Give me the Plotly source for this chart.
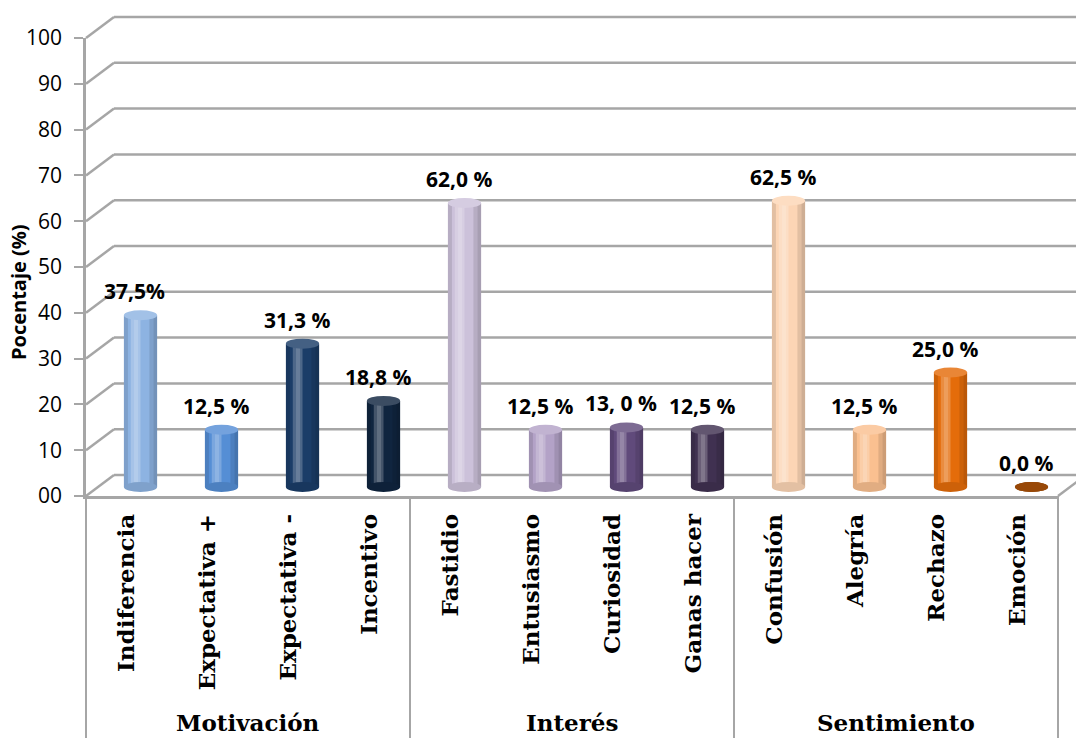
import plotly.graph_objects as go

# ---- data -------------------------------------------------------------
categorias = ["Indiferencia", "Expectativa +", "Expectativa -", "Incentivo",
              "Fastidio", "Entusiasmo", "Curiosidad", "Ganas hacer",
              "Confusión", "Alegría", "Rechazo", "Emoción"]
grupos = ["Motivación", "Interés", "Sentimiento"]
porcentajes = [37.5, 12.5, 31.3, 18.8, 62.0, 12.5, 13.0, 12.5, 62.5, 12.5, 25.0, 0.0]
etiquetas = ["37,5%", "12,5 %", "31,3 %", "18,8 %", "62,0 %", "12,5 %",
             "13, 0 %", "12,5 %", "62,5 %", "12,5 %", "25,0 %", "0,0 %"]
colores = ["#8DB3E2", "#558ED5", "#1B3D68", "#10253F",
           "#CCC1DA", "#B3A2C7", "#604A7B", "#403151",
           "#FCD5B5", "#FAC090", "#E46C0A", "#984807"]
ticks_y = list(range(0, 101, 10))
ticks_y_texto = ["00"] + [str(t) for t in ticks_y[1:]]

# ---- geometry (pixels) -------------------------------------------------
W, H = 1076, 738
X_LEFT, X_RIGHT = 86, 1058          # front plane, category span
Y_ZERO, Y_TOP = 496, 38             # front plane, value 0 and value 100
DEPTH_X, DEPTH_Y = 28, -21          # back wall offset
BAR_DX, BAR_DY = 14, -9             # cylinders sit half way in depth
SCALE = (Y_ZERO - Y_TOP) / 100.0
GRID = "#A6A6A6"
n = len(categorias)
idx = list(range(n))


def px(x):
    return x / W


def py(y):
    return 1 - y / H


def mix(hex_color, amount, target=(255, 255, 255)):
    h = hex_color.lstrip("#")
    rgb = [int(h[i:i + 2], 16) for i in (0, 2, 4)]
    out = [round(c + (t - c) * amount) for c, t in zip(rgb, target)]
    return "#%02X%02X%02X" % tuple(out)


fig = go.Figure()

# invisible copy on the front axes so that the front frame, ticks and
# category labels are laid out
fig.add_trace(go.Bar(x=idx, y=porcentajes, xaxis="x", yaxis="y", opacity=0,
                     marker=dict(color="rgba(0,0,0,0)", line=dict(width=0)),
                     hoverinfo="skip"))

# cylinder bodies and shading strips
BAR_W = 0.41
fig.add_trace(go.Bar(x=idx, y=porcentajes, xaxis="x2", yaxis="y2",
                     width=BAR_W, offset=-BAR_W / 2,
                     marker=dict(color=colores, line=dict(width=0)),
                     hoverinfo="skip"))
strips = [(-0.205, 0.05, "rgba(0,0,0,0.10)"),
          (-0.12, 0.12, "rgba(255,255,255,0.22)"),
          (-0.08, 0.05, "rgba(255,255,255,0.15)"),
          (0.11, 0.05, "rgba(0,0,0,0.10)"),
          (0.16, 0.045, "rgba(0,0,0,0.18)")]
for off, wdt, col in strips:
    fig.add_trace(go.Bar(x=idx, y=porcentajes, xaxis="x2", yaxis="y2",
                         width=wdt, offset=off,
                         marker=dict(color=col, line=dict(width=0)),
                         hoverinfo="skip"))

shapes = []
ELL = 5.0 / SCALE   # half height of the elliptical caps, in data units
for i, (v, c) in enumerate(zip(porcentajes, colores)):
    # rounded base
    shapes.append(dict(type="circle", xref="x2", yref="y2", layer="above",
                       x0=i - BAR_W / 2, x1=i + BAR_W / 2, y0=-ELL, y1=ELL,
                       fillcolor=mix(c, 0.1, (0, 0, 0)), line=dict(width=0)))
    # top cap
    shapes.append(dict(type="circle", xref="x2", yref="y2", layer="above",
                       x0=i - BAR_W / 2, x1=i + BAR_W / 2, y0=v - ELL, y1=v + ELL,
                       fillcolor=mix(c, 0.18) if v > 0 else c,
                       line=dict(width=0)))

# back wall grid + side wall connectors
for t in ticks_y:
    yf = Y_ZERO - t * SCALE
    yb = yf + DEPTH_Y
    shapes.append(dict(type="line", xref="paper", yref="paper", layer="below",
                       x0=px(X_LEFT + DEPTH_X), x1=px(X_RIGHT + DEPTH_X),
                       y0=py(yb), y1=py(yb), line=dict(color=GRID, width=2.5)))
    shapes.append(dict(type="line", xref="paper", yref="paper", layer="below",
                       x0=px(X_LEFT), x1=px(X_LEFT + DEPTH_X),
                       y0=py(yf), y1=py(yb), line=dict(color=GRID, width=2.5)))
# right floor edge
shapes.append(dict(type="line", xref="paper", yref="paper", layer="below",
                   x0=px(X_RIGHT), x1=px(X_RIGHT + DEPTH_X),
                   y0=py(Y_ZERO), y1=py(Y_ZERO + DEPTH_Y),
                   line=dict(color=GRID, width=2.5)))
# category table separators
step = (X_RIGHT - X_LEFT) / n
for g in range(len(grupos) + 1):
    xs = X_LEFT + g * 4 * step
    shapes.append(dict(type="line", xref="paper", yref="paper", layer="below",
                       x0=px(xs), x1=px(xs), y0=py(Y_ZERO), y1=0,
                       line=dict(color=GRID, width=2)))

annotations = []
for i, (v, txt) in enumerate(zip(porcentajes, etiquetas)):
    annotations.append(dict(x=i, y=v, xref="x2", yref="y2", text=txt,
                            showarrow=False, xshift=-6, yshift=24,
                            xanchor="center", yanchor="middle",
                            font=dict(family="Open Sans", size=21, color="#000000",
                                      weight="bold")))
for g, name in enumerate(grupos):
    xc = X_LEFT + (g * 4 + 2) * step
    annotations.append(dict(x=px(xc), y=py(722), xref="paper", yref="paper",
                            text=name, showarrow=False,
                            xanchor="center", yanchor="middle",
                            font=dict(family="DejaVu Serif", size=23, color="#000000",
                                      weight="bold")))
annotations.append(dict(x=px(19), y=py(292), xref="paper", yref="paper",
                        text="Pocentaje (%)", textangle=-90, showarrow=False,
                        xanchor="center", yanchor="middle",
                        font=dict(family="Open Sans", size=20, color="#000000",
                                  weight="bold")))

bar_bottom_val, bar_top_val = -6, 106
fig.update_layout(
    template="none",
    width=W, height=H,
    margin=dict(l=0, r=0, t=0, b=0, pad=0, autoexpand=False),
    paper_bgcolor="white", plot_bgcolor="rgba(0,0,0,0)",
    showlegend=False, barmode="overlay",
    xaxis=dict(domain=[px(X_LEFT), px(X_RIGHT)], range=[-0.5, n - 0.5],
               anchor="y", automargin=False,
               tickvals=idx, ticktext=categorias, tickangle=-90,
               ticks="", ticklabelstandoff=6,
               showline=True, linecolor=GRID, linewidth=2.5,
               showgrid=False, zeroline=False, fixedrange=True,
               tickfont=dict(family="DejaVu Serif", size=23, color="#000000",
                             weight="bold")),
    yaxis=dict(domain=[py(Y_ZERO), py(Y_TOP)], range=[0, 100], anchor="x",
               automargin=False,
               tickvals=ticks_y, ticktext=ticks_y_texto,
               ticks="outside", ticklen=9, tickwidth=2, tickcolor=GRID,
               ticklabelstandoff=8,
               showline=True, linecolor=GRID, linewidth=2.5,
               showgrid=False, zeroline=False, fixedrange=True,
               tickfont=dict(family="Open Sans", size=21, color="#000000")),
    xaxis2=dict(domain=[px(X_LEFT + BAR_DX), px(X_RIGHT + BAR_DX)],
                range=[-0.5, n - 0.5], anchor="y2", visible=False,
                automargin=False),
    yaxis2=dict(domain=[py(Y_ZERO + BAR_DY - bar_bottom_val * SCALE),
                        py(Y_ZERO + BAR_DY - bar_top_val * SCALE)],
                range=[bar_bottom_val, bar_top_val], anchor="x2", visible=False,
                automargin=False),
    shapes=shapes, annotations=annotations,
)

fig.write_html("out.html")
